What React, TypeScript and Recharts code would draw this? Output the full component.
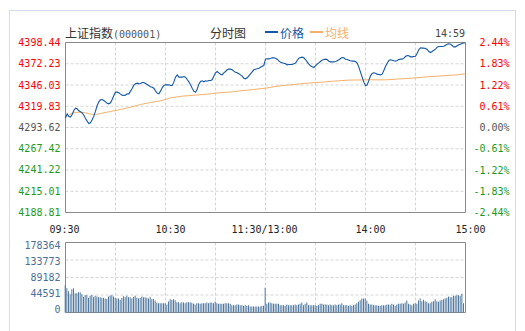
import { LineChart, Line, BarChart, Bar, XAxis, YAxis, CartesianGrid, ReferenceArea } from 'recharts';

const prevClose = 4293.62;
const priceTicks = [4398.44, 4372.23, 4346.03, 4319.83, 4293.62, 4267.42, 4241.22, 4215.01, 4188.81];
const pctTicks = [2.44, 1.83, 1.22, 0.61, 0, -0.61, -1.22, -1.83, -2.44];
const volTicks = [0, 44591, 89182, 133773, 178364];
const gridMinutes = [0, 30, 60, 90, 120, 150, 180, 210, 240];
const timeTicks = [0, 60, 120, 180, 240];
const timeLabels = ['09:30', '10:30', '11:30/13:00', '14:00', '15:00'];

// minute-by-minute index, 09:30 .. 11:30 / 13:00 .. 15:00
const price = [
  4305.55, 4310.48, 4307.2, 4306.37, 4309.66, 4314.59, 4317.47, 4316.65, 4314.18, 4312.95,
  4311.72, 4308.84, 4304.73, 4301.44, 4298.56, 4299.39, 4303.08, 4307.61, 4313.77, 4320.76,
  4325.28, 4327.75, 4328.16, 4326.92, 4325.28, 4323.64, 4322.81, 4324.05, 4328.16, 4333.09,
  4337.2, 4337.2, 4336.38, 4334.73, 4333.5, 4333.09, 4333.5, 4335.15, 4335.15, 4338.43,
  4341.72, 4345.83, 4347.48, 4348.3, 4347.48, 4347.89, 4349.12, 4349.12, 4347.89, 4346.65,
  4345.42, 4343.78, 4343.37, 4342.13, 4338.84, 4335.97, 4335.15, 4338.43, 4342.54, 4345.42,
  4346.24, 4346.24, 4346.24, 4345.42, 4345.42, 4349.53, 4355.7, 4358.57, 4355.7, 4355.7,
  4355.7, 4356.52, 4355.7, 4352.82, 4349.94, 4346.24, 4342.13, 4338.43, 4337.2, 4340.9,
  4347.06, 4350.35, 4351.18, 4349.94, 4351.18, 4350.76, 4351.59, 4351.59, 4352.41, 4356.93,
  4361.04, 4362.68, 4361.04, 4359.4, 4358.57, 4361.04, 4362.68, 4364.74, 4365.56, 4365.56,
  4364.74, 4363.1, 4361.86, 4361.04, 4359.81, 4358.57, 4356.93, 4354.46, 4353.64, 4354.87,
  4357.34, 4359.81, 4362.27, 4364.74, 4365.56, 4365.97, 4366.79, 4368.03, 4369.26, 4370.08,
  4377.89, 4378.3, 4378.3, 4378.71, 4379.54, 4379.54, 4379.13, 4377.89, 4375.84, 4374.19,
  4373.37, 4372.96, 4372.14, 4370.9, 4371.32, 4371.32, 4371.32, 4372.14, 4372.96, 4376.25,
  4379.13, 4379.95, 4380.36, 4379.54, 4377.48, 4374.6, 4371.73, 4369.67, 4368.44, 4367.62,
  4369.67, 4371.73, 4373.37, 4375.02, 4376.66, 4377.48, 4377.89, 4377.48, 4375.43, 4374.6,
  4374.6, 4374.6, 4375.02, 4375.84, 4377.07, 4378.71, 4379.95, 4379.54, 4377.89, 4377.48,
  4376.66, 4375.84, 4375.43, 4375.43, 4375.02, 4372.96, 4368.03, 4361.86, 4355.7, 4349.53,
  4345.01, 4346.24, 4351.59, 4357.34, 4360.22, 4361.04, 4360.63, 4359.4, 4358.98, 4358.57,
  4359.4, 4363.92, 4368.85, 4372.96, 4376.25, 4377.07, 4376.66, 4375.84, 4375.43, 4376.25,
  4377.48, 4377.89, 4377.89, 4379.13, 4381.18, 4382.41, 4382.0, 4380.77, 4380.77, 4381.18,
  4381.59, 4385.29, 4389.81, 4391.87, 4391.46, 4391.46, 4391.05, 4389.81, 4387.35, 4386.11,
  4387.35, 4388.99, 4390.22, 4392.69, 4393.51, 4393.51, 4393.51, 4393.92, 4395.16, 4396.39,
  4396.8, 4396.39, 4394.74, 4393.1, 4393.1, 4394.33, 4395.57, 4396.39, 4397.21, 4398.03,
  4398.2,
];

const avgMinutes = [0, 4, 8, 12, 15, 18, 21, 27, 33, 39, 45, 51, 57, 63, 70, 78, 85, 92, 100, 107, 113, 120,
  127, 133, 139, 145, 154, 161, 169, 180, 192, 198, 208, 217, 226, 235, 240];
const avgPrices = [4306.37, 4311.31, 4312.54, 4311.72, 4310.07, 4309.66, 4310.89, 4313.36, 4315.83, 4318.7,
  4321.99, 4324.46, 4326.51, 4330.21, 4332.27, 4333.5, 4334.73, 4336.38, 4337.61, 4339.26, 4340.49, 4342.13,
  4344.6, 4345.83, 4347.06, 4348.3, 4349.53, 4350.76, 4352.0, 4352.41, 4352.41, 4353.23, 4354.46, 4356.11,
  4357.34, 4358.57, 4359.81];

const volume = [
  69600, 61900, 54300, 46600, 59400, 61900, 49200, 49200, 51700, 51700,
  46600, 39800, 44900, 44100, 37300, 42400, 44900, 39000, 42400, 40700,
  39000, 39000, 37300, 37300, 35600, 34700, 40700, 43200, 44100, 40700,
  37300, 35600, 35600, 32200, 37300, 41500, 39000, 42400, 39000, 39000,
  35600, 39800, 42400, 37300, 35600, 37300, 40700, 39000, 39000, 37300,
  35600, 39000, 33900, 34700, 30500, 25400, 23700, 23700, 23700, 23700,
  23700, 20300, 27900, 33900, 32200, 33900, 31300, 26200, 26200, 23700,
  26200, 25400, 23700, 26200, 26200, 26200, 24600, 22000, 20300, 23700,
  23700, 22000, 23700, 23700, 23700, 25400, 23700, 25400, 25400, 23700,
  27900, 23700, 22000, 22000, 22000, 22000, 23700, 23700, 23700, 22000,
  18600, 18600, 18600, 20300, 20300, 18600, 18600, 16900, 18600, 16900,
  18600, 15200, 15200, 15200, 15200, 15200, 15200, 15200, 16900,
  16900, 62800, 22000, 25400, 25400, 23700, 22000, 22000, 22000, 22000,
  18600, 18600, 18600, 16900, 20300, 18600, 18600, 18600, 18600, 20300,
  18600, 20300, 22000, 25400, 18600, 22000, 25400, 18600, 18600, 18600,
  18600, 18600, 16900, 18600, 22000, 22000, 20300, 20300, 20300, 18600,
  20300, 18600, 18600, 20300, 18600, 20300, 20300, 23700, 18600, 18600,
  18600, 16900, 18600, 16900, 18600, 20300, 23700, 27100, 31300, 35600,
  35600, 35600, 30500, 22000, 20300, 20300, 18600, 18600, 18600, 16900,
  16900, 18600, 18600, 18600, 20300, 20300, 18600, 22000, 20300, 16900,
  20300, 22000, 22000, 23700, 22000, 25400, 30500, 22000, 20300, 18600,
  22000, 23700, 22000, 30500, 35600, 28800, 32200, 28800, 27100, 23700,
  23700, 27100, 28800, 33900, 28800, 27100, 30500, 32200, 33900, 35600,
  37300, 40700, 39000, 39000, 42400, 42400, 44100, 44100, 42400, 47500,
  23700,
];

const priceData = price.map((p, i) => ({ t: i, price: p }));
const avgData = avgMinutes.map((t, i) => ({ t, avg: avgPrices[i] }));
const volData = volume.map((v, i) => ({ t: i, vol: v }));

const MONO = '"DejaVu Sans Mono", monospace';
const CJK = '"Noto Sans CJK SC", sans-serif';
const RED = '#ff0000';
const GREEN = '#1c9a1c';
const GRAY = '#555555';
const BLUE = '#1357a6';
const ORANGE = '#f5b06b';
const VOLBLUE = '#52799f';
const GRID = '#d4d4d4';
const BORDER = '#8a8a8a';

const colorFor = (v: number, base: number) =>
  v > base + 0.001 ? RED : v < base - 0.001 ? GREEN : GRAY;

const PriceTick = ({ x, y, payload }: any) => (
  <text x={x} y={y} dy="0.35em" textAnchor="end" fill={colorFor(payload.value, prevClose)}
    fontSize={10} fontFamily={MONO}>
    {payload.value.toFixed(2)}
  </text>
);

// right-aligned percentage labels
const PctTick = ({ x, y, payload }: any) => (
  <text x={x} y={y} dy="0.35em" textAnchor="end" fill={colorFor(payload.value, 0)}
    fontSize={10} fontFamily={MONO}>
    {payload.value.toFixed(2) + '%'}
  </text>
);

const labelShift = [-1, 5, -1, 5, 5];
const TimeTick = ({ x, y, payload }: any) => {
  const idx = timeTicks.indexOf(payload.value);
  if (idx < 0) return null;
  return (
    <text x={x + labelShift[idx]} y={y} dy="0.35em" textAnchor="middle" fill="#222"
      fontSize={10} fontFamily={MONO}>
      {timeLabels[idx]}
    </text>
  );
};

// labels in the volume panel sit a bit inward from the top/bottom lines
const volShift = [-3.5, -2, 0, 1, 2.5];
const VolTick = ({ x, y, payload, index }: any) => (
  <text x={x} y={y + (volShift[index] ?? 0)} dy="0.35em" textAnchor="end" fill="#4b6f98"
    fontSize={10} fontFamily={MONO}>
    {payload.value}
  </text>
);

export default function App() {
  return (
    <div style={{ position: 'absolute', left: 0, top: 0, width: 525, height: 331, background: '#fff', overflow: 'hidden' }}>
      <div style={{ position: 'absolute', left: 9, top: 10, width: 505, height: 320, borderLeft: '1px solid #d3dde7', borderTop: '1px solid #d3dde7', borderRight: '1px solid #d3dde7' }} />

      <div style={{ position: 'absolute', left: 65, top: 26, height: 14, lineHeight: '14px', whiteSpace: 'nowrap' }}>
        <span style={{ fontFamily: CJK, fontSize: 12, color: '#333' }}>上证指数</span>
        <span style={{ fontFamily: MONO, fontSize: 10, color: '#555' }}>(000001)</span>
      </div>
      <div style={{ position: 'absolute', left: 210, top: 26, lineHeight: '14px', fontFamily: CJK, fontSize: 12, color: '#333' }}>分时图</div>
      <div style={{ position: 'absolute', left: 265, top: 31, width: 13, height: 2, background: BLUE }} />
      <div style={{ position: 'absolute', left: 280, top: 26, lineHeight: '14px', fontFamily: CJK, fontSize: 12, color: BLUE }}>价格</div>
      <div style={{ position: 'absolute', left: 310, top: 31, width: 13, height: 2, background: ORANGE }} />
      <div style={{ position: 'absolute', left: 325, top: 26, lineHeight: '14px', fontFamily: CJK, fontSize: 12, color: ORANGE }}>均线</div>
      <div style={{ position: 'absolute', right: 60, top: 27, lineHeight: '14px', fontFamily: MONO, fontSize: 10, color: '#444' }}>14:59</div>

      <div style={{ position: 'absolute', left: 0, top: 0 }}>
        <LineChart width={525} height={240} data={priceData} margin={{ top: 42.5, right: 9.5, left: 5.5, bottom: 7.5 }}>
          <CartesianGrid stroke={GRID} strokeDasharray="3 2" />
          <XAxis type="number" dataKey="t" domain={[0, 240]} ticks={gridMinutes} interval={0}
            height={20} tickSize={0} tickMargin={16.5} axisLine={false} tick={<TimeTick />} />
          <YAxis domain={[priceTicks[8], priceTicks[0]]} ticks={priceTicks} interval={0} width={60}
            tickSize={0} tickMargin={5} axisLine={false} tick={<PriceTick />} allowDataOverflow />
          <YAxis yAxisId="pct" orientation="right" domain={[-2.44, 2.44]} ticks={pctTicks} interval={0}
            width={50} tickSize={0} tickMargin={44} axisLine={false} tick={<PctTick />} allowDataOverflow />
          <Line data={avgData} dataKey="avg" stroke={ORANGE} strokeWidth={1} dot={false} isAnimationActive={false} />
          <Line dataKey="price" stroke={BLUE} strokeWidth={1.1} dot={false} isAnimationActive={false} />
          <ReferenceArea x1={0} x2={240} y1={priceTicks[8]} y2={priceTicks[0]} fill="none" stroke={BORDER} />
        </LineChart>
      </div>

      <div style={{ position: 'absolute', left: 0, top: 230 }}>
        <BarChart width={525} height={100} data={volData} margin={{ top: 12.5, right: 59.5, left: 5.5, bottom: 17.5 }}>
          <CartesianGrid stroke={GRID} strokeDasharray="3 2" />
          <XAxis type="number" dataKey="t" domain={[0, 240]} ticks={gridMinutes} interval={0} hide />
          <YAxis domain={[0, volTicks[4]]} ticks={volTicks} interval={0} width={60} tickSize={0}
            tickMargin={5} axisLine={false} tick={<VolTick />} />
          <Bar dataKey="vol" fill={VOLBLUE} barSize={1} isAnimationActive={false} />
          <ReferenceArea x1={0} x2={240} y1={0} y2={volTicks[4]} fill="none" stroke={BORDER} />
        </BarChart>
      </div>
    </div>
  );
}
